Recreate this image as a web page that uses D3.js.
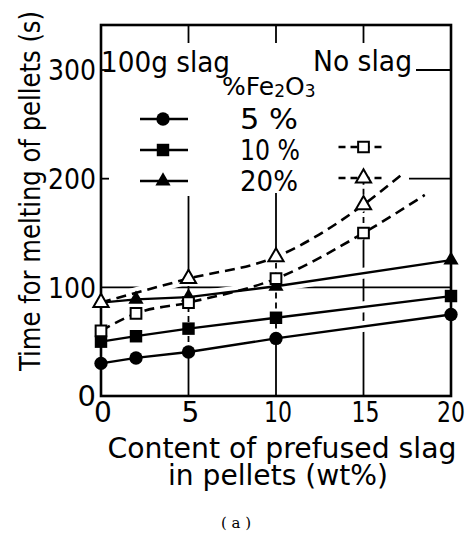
<!DOCTYPE html>
<html lang="en">
<head>
<meta charset="UTF-8">
<title>Time for melting of pellets</title>
<script src="https://cdn.jsdelivr.net/npm/d3@7"></script>
<style>
	html,body{margin:0;padding:0;background:#fff;}
	svg{display:block;}
	text{font-family:"DejaVu Sans",sans-serif;fill:#000;}
</style>
</head>
<body>
<svg id="svg" width="470" height="533"></svg>
<script>
// content of prefused slag in pellets (wt%)
var slagX = [0, 2, 5, 10, 20];
// 100 g slag : melting time (s) for 5, 10, 20 % Fe2O3
var slag5 = [30, 35, 40.5, 53, 75];
var slag10 = [50, 55, 62, 72, 92];
var slag20 = [86, 89, 91, 101, 125];
// no slag : 10 and 20 % Fe2O3
var noSlagX10 = [0, 2, 5, 10, 15];
var noSlag10 = [60, 76, 86, 108, 150];
var noSlagX20 = [0, 5, 10, 15];
var noSlag20 = [86, 108, 128, 176];
// the drawn curves run on a little past the last point
var curveEnd10 = [18.5, 185];
var curveEnd20 = [17.2, 204];

var xTicks = [0, 5, 10, 15, 20];
var yTicks = [0, 100, 200, 300];
var legendRows = ["5 %", "10 %", "20%"];

(function(){
	var svg = d3.select("#svg");
	var x = d3.scaleLinear().domain([0, 20]).range([101, 451]);
	var y = d3.scaleLinear().domain([0, 300]).range([396, 70]);
	var frameTop = 25;

	var zip = (xs, ys) => xs.map((v, i) => [v, ys[i]]);
	var solid = [
		{pts: zip(slagX, slag5), sym: d3.symbolCircle, size: 140},
		{pts: zip(slagX, slag10), sym: d3.symbolSquare, size: 155},
		{pts: zip(slagX, slag20), sym: d3.symbolTriangle, size: 100}
	];
	var dashed = [
		{pts: zip(noSlagX10, noSlag10), end: curveEnd10, sym: d3.symbolSquare, size: 115},
		{pts: zip(noSlagX20, noSlag20), end: curveEnd20, sym: d3.symbolTriangle, size: 100}
	];

	var grid = svg.append("g").attr("stroke", "#000").attr("stroke-width", 1.8).attr("fill", "none");

	// horizontal grid: full at 100, short ticks + right part at 200/300
	grid.append("line").attr("x1", x(0)).attr("x2", x(20)).attr("y1", y(100)).attr("y2", y(100));
	[[200, 17.6], [300, 18]].forEach(d => {
		grid.append("line").attr("x1", x(0)).attr("x2", x(0) + 8).attr("y1", y(d[0])).attr("y2", y(d[0]));
		grid.append("line").attr("x1", x(d[1])).attr("x2", x(20)).attr("y1", y(d[0])).attr("y2", y(d[0]));
	});

	// vertical grid: ticks at the top, then lines under the legend
	var legendTri = 178;
	var vTop = {5: 196, 10: 193, 15: legendTri};
	[5, 10, 15].forEach(v => {
		grid.append("line").attr("x1", x(v)).attr("x2", x(v)).attr("y1", frameTop).attr("y2", frameTop + 18);
		var vals = [];
		solid.concat(dashed).forEach(s => s.pts.forEach(p => { if (p[0] === v) vals.push(p[1]); }));
		var lo = d3.min(vals), hi = d3.max(vals);
		grid.append("line").attr("x1", x(v)).attr("x2", x(v)).attr("y1", y(0)).attr("y2", y(lo));
		grid.append("line").attr("x1", x(v)).attr("x2", x(v)).attr("y1", y(lo)).attr("y2", y(hi))
			.attr("stroke-dasharray", "6,4");
		grid.append("line").attr("x1", x(v)).attr("x2", x(v)).attr("y1", y(hi)).attr("y2", vTop[v])
			.attr("stroke-dasharray", v === 15 ? "6,4" : null);
	});

	var lineLin = d3.line().x(d => x(d[0])).y(d => y(d[1]));
	var lineCurve = d3.line().x(d => x(d[0])).y(d => y(d[1])).curve(d3.curveMonotoneX);

	// white halos so grid lines break where the data lines cross them
	var halo = svg.append("g").attr("fill", "none").attr("stroke", "#fff").attr("stroke-width", 11);
	solid.forEach(s => halo.append("path").attr("d", lineLin(s.pts)));
	dashed.forEach(s => halo.append("path").attr("d", lineCurve(s.pts.concat([s.end]))));

	// frame
	svg.append("rect")
		.attr("x", x(0)).attr("y", frameTop)
		.attr("width", x(20) - x(0)).attr("height", y(0) - frameTop)
		.attr("fill", "none").attr("stroke", "#000").attr("stroke-width", 2.6);

	var data = svg.append("g").attr("fill", "none").attr("stroke", "#000");
	solid.forEach(s => data.append("path").attr("d", lineLin(s.pts)).attr("stroke-width", 2.3));
	dashed.forEach(s => data.append("path").attr("d", lineCurve(s.pts.concat([s.end])))
		.attr("stroke-width", 2.6).attr("stroke-dasharray", "10,6"));

	var sym = d3.symbol();
	solid.forEach(s => {
		svg.append("g").selectAll("path").data(s.pts).enter().append("path")
			.attr("transform", d => "translate(" + x(d[0]) + "," + y(d[1]) + ")")
			.attr("d", sym.type(s.sym).size(s.size)())
			.attr("fill", "#000");
	});
	dashed.forEach(s => {
		svg.append("g").selectAll("path").data(s.pts).enter().append("path")
			.attr("transform", d => "translate(" + x(d[0]) + "," + y(d[1]) + ")")
			.attr("d", sym.type(s.sym).size(s.size)())
			.attr("fill", "#fff").attr("stroke", "#000").attr("stroke-width", 2);
	});

	// tick labels (the original face has narrow digits)
	var tickLen = d => String(d).length === 1 ? null : String(d).length * 16;
	svg.append("g").selectAll("text").data(yTicks).enter().append("text")
		.attr("x", 96).attr("y", d => y(d)).attr("dy", "0.36em")
		.attr("text-anchor", "end").attr("font-size", 29)
		.attr("textLength", tickLen).attr("lengthAdjust", "spacingAndGlyphs")
		.text(d => d);
	svg.append("g").selectAll("text").data(xTicks).enter().append("text")
		.attr("x", d => d === 20 ? x(d) : x(d) + 2).attr("y", 422)
		.attr("text-anchor", "middle").attr("font-size", 28)
		.attr("textLength", d => String(d).length === 1 ? null : 28).attr("lengthAdjust", "spacingAndGlyphs")
		.text(d => d);

	// axis titles
	svg.append("text")
		.attr("transform", "translate(40,191) rotate(-90)")
		.attr("text-anchor", "middle").attr("font-size", 28)
		.attr("textLength", 360).attr("lengthAdjust", "spacingAndGlyphs")
		.text("Time for melting of pellets (s)");
	svg.append("text").attr("x", 282).attr("y", 458)
		.attr("text-anchor", "middle").attr("font-size", 28)
		.attr("textLength", 349).attr("lengthAdjust", "spacingAndGlyphs")
		.text("Content of prefused slag");
	svg.append("text").attr("x", 278).attr("y", 485)
		.attr("text-anchor", "middle").attr("font-size", 28)
		.attr("textLength", 220).attr("lengthAdjust", "spacingAndGlyphs")
		.text("in pellets (wt%)");
	svg.append("text").attr("x", 236).attr("y", 528)
		.attr("text-anchor", "middle").attr("font-size", 15)
		.style("font-family", "'DejaVu Serif',serif")
		.text("( a )");

	// legend
	var lg = svg.append("g");
	lg.append("text").attr("x", 101).attr("y", 72).attr("font-size", 29)
		.attr("textLength", 129).attr("lengthAdjust", "spacingAndGlyphs").text("100g slag");
	lg.append("text").attr("x", 313).attr("y", 71).attr("font-size", 29)
		.attr("textLength", 99).attr("lengthAdjust", "spacingAndGlyphs").text("No slag");
	var fe = lg.append("text").attr("x", 222).attr("y", 95).attr("font-size", 25);
	fe.append("tspan").text("%Fe");
	fe.append("tspan").attr("font-size", 17).attr("dy", 2).text("2");
	fe.append("tspan").attr("dy", -2).text("O");
	fe.append("tspan").attr("font-size", 17).attr("dy", 2).text("3");

	var rowY = [119, 150, 181];
	var rowLen = [58, 60, 58];
	legendRows.forEach((t, i) => {
		lg.append("text").attr("x", 240).attr("y", rowY[i]).attr("dy", "0.36em")
			.attr("font-size", 29).attr("textLength", rowLen[i]).attr("lengthAdjust", "spacingAndGlyphs")
			.text(t);
		var s = solid[i];
		lg.append("line").attr("x1", 140).attr("x2", 188).attr("y1", rowY[i]).attr("y2", rowY[i])
			.attr("stroke", "#000").attr("stroke-width", 2.3);
		lg.append("path").attr("transform", "translate(163," + rowY[i] + ")")
			.attr("d", sym.type(s.sym).size(s.size)()).attr("fill", "#000");
	});
	dashed.forEach((s, i) => {
		var yy = rowY[i + 1] - 3;
		lg.append("line").attr("x1", x(15) - 25).attr("x2", x(15) + 22).attr("y1", yy).attr("y2", yy)
			.attr("stroke", "#000").attr("stroke-width", 2.3).attr("stroke-dasharray", "7,5");
		lg.append("path").attr("transform", "translate(" + x(15) + "," + yy + ")")
			.attr("d", sym.type(s.sym).size(s.size)())
			.attr("fill", "#fff").attr("stroke", "#000").attr("stroke-width", 2);
	});
})();
</script>
</body>
</html>
